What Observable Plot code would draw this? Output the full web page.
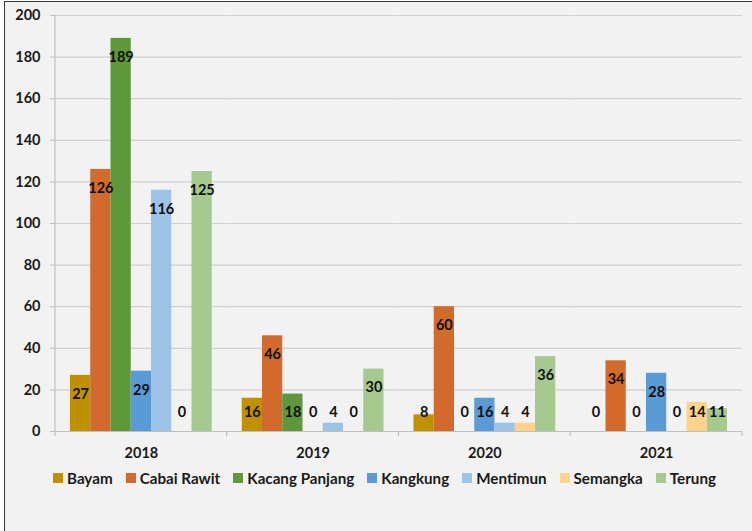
<!DOCTYPE html>
<html>
<head>
<meta charset="utf-8">
<script src="https://cdn.jsdelivr.net/npm/d3@7"></script>
<script src="https://cdn.jsdelivr.net/npm/@observablehq/plot@0.6"></script>
<style>
  html, body { margin: 0; padding: 0; width: 752px; height: 531px; overflow: hidden; background: #ffffff; }
  #bg { position: absolute; left: 4px; top: 1px; right: 0; bottom: 0; background: #f2f2f2;
        border-left: 1px solid #3a3a3a; border-top: 1px solid #3a3a3a; }
  #chart { position: absolute; left: 0; top: 0; }
  #legend { position: absolute; left: 53px; top: 469px; display: flex; align-items: center;
            font-family: Lato, "Open Sans", sans-serif; font-weight: bold; font-size: 15.2px; color: #1a1a1a; }
  .item { display: flex; align-items: center; margin-right: 13px; white-space: nowrap; }
  .sw { width: 10px; height: 10px; margin-right: 4px; }
</style>
</head>
<body>
<div id="bg"></div>
<div id="chart"></div>
<div id="legend"></div>
<script>
const years = ["2018", "2019", "2020", "2021"];
const series = ["Bayam", "Cabai Rawit", "Kacang Panjang", "Kangkung", "Mentimun", "Semangka", "Terung"];
const colors = ["#bf9000", "#d26a2b", "#5f983b", "#5b9bd5", "#9dc3e6", "#ffd38b", "#a6c98f"];
const bayam = [27, 16, 8, 0];
const cabaiRawit = [126, 46, 60, 34];
const kacangPanjang = [189, 18, 0, 0];
const kangkung = [29, 0, 16, 28];
const mentimun = [116, 4, 4, 0];
const semangka = [0, 0, 4, 14];
const terung = [125, 30, 36, 11];
const yTicks = [0, 20, 40, 60, 80, 100, 120, 140, 160, 180, 200];

const valuesBySeries = [bayam, cabaiRawit, kacangPanjang, kangkung, mentimun, semangka, terung];
const data = [];
years.forEach((yr, i) => {
  series.forEach((s, j) => {
    data.push({year: yr, series: s, value: valuesBySeries[j][i]});
  });
});

const plot = Plot.plot({
  width: 752,
  height: 465,
  marginTop: 15,
  marginBottom: 34,
  marginLeft: 55,
  marginRight: 10,
  style: {background: "transparent", fontFamily: "Lato, 'Open Sans', sans-serif", fontSize: "14.5px", fontWeight: "bold", color: "#1a1a1a"},
  fx: {domain: years, padding: 0, round: false, label: null},
  x: {domain: series, paddingInner: 0, paddingOuter: 0.74, round: false, axis: null},
  y: {domain: [0, 200], label: null},
  color: {domain: series, range: colors},
  marks: [
    Plot.gridY(yTicks, {stroke: "#cfcfcf", strokeOpacity: 1, strokeWidth: 1.2}),
    Plot.axisY(yTicks, {tickSize: 5, tickPadding: 10, stroke: "#bfbfbf", label: null, fill: "#1a1a1a"}),
    Plot.axisFx({anchor: "bottom", tickSize: 0, tickPadding: 16, label: null, fill: "#1a1a1a"}),
    Plot.barY(data, {fx: "year", x: "series", y: "value", fill: "series"}),
    Plot.ruleY([0], {stroke: "#bfbfbf", strokeWidth: 1.2}),
    Plot.text(data, {fx: "year", x: "series", y: d => Math.max(d.value - 9, 9), text: d => String(d.value), fill: "#111", fontWeight: "bold", fontSize: 14.5})
  ]
});

// Category boundary ticks and vertical axis line, placed via the plot's own scales
const fx = plot.scale("fx");
const ys = plot.scale("y");
const fxBand = d3.scaleBand(fx.domain, fx.range).paddingInner(fx.paddingInner ?? 0).paddingOuter(fx.paddingOuter ?? 0);
const y0 = ys.apply(0), yTop = ys.apply(200);
const edges = years.map(yr => fxBand(yr)).concat([fxBand(years[years.length - 1]) + fxBand.bandwidth()]);
const svg = d3.select(plot);
const g = svg.append("g").attr("stroke", "#bfbfbf").attr("stroke-width", 1.2);
edges.forEach(x => {
  g.append("line").attr("x1", x).attr("x2", x).attr("y1", y0).attr("y2", y0 + 5);
});
g.append("line").attr("x1", edges[0]).attr("x2", edges[0]).attr("y1", yTop).attr("y2", y0);

document.getElementById("chart").appendChild(plot);

const legend = document.getElementById("legend");
series.forEach((s, j) => {
  const item = document.createElement("div");
  item.className = "item";
  const sw = document.createElement("div");
  sw.className = "sw";
  sw.style.background = colors[j];
  const t = document.createElement("span");
  t.textContent = s;
  item.appendChild(sw);
  item.appendChild(t);
  legend.appendChild(item);
});
</script>
</body>
</html>
